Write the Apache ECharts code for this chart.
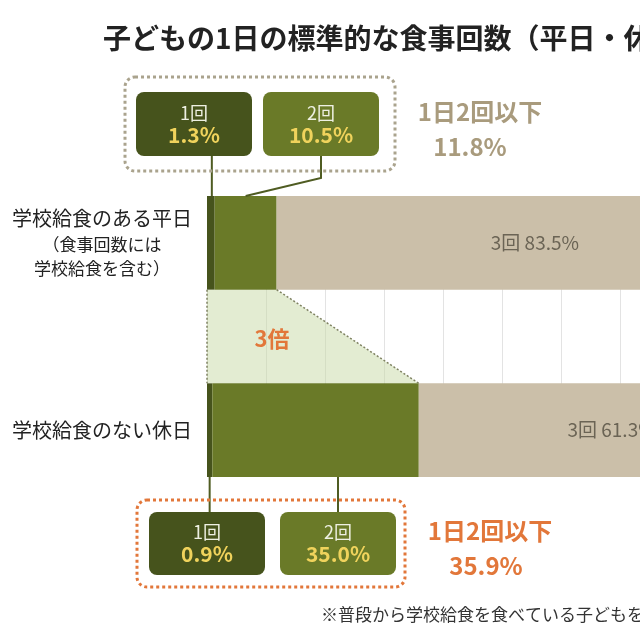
<!DOCTYPE html>
<html>
<head>
<meta charset="utf-8">
<script src="https://cdn.jsdelivr.net/npm/echarts@6/dist/echarts.min.js"></script>
<style>
  html, body { margin: 0; padding: 0; background: #fff; }
  #main { width: 640px; height: 640px; }
</style>
</head>
<body>
<div id="main"></div>
<script>
// data
const categories = ["学校給食のある平日", "学校給食のない休日"];
const seriesNames = ["1回", "2回", "3回"];
const once = [1.3, 0.9];
const twice = [10.5, 35.0];
const thrice = [83.5, 61.3];

const FONT = "Noto Sans CJK JP";
const C_DARK = "#46531c";
const C_GREEN = "#6a7a28";
const C_TAN = "#cbbfa9";
const C_ORANGE = "#e2773a";
const C_GREY = "#a99b7d";

// spacer row in the middle for the "3倍" band
const axisData = [categories[0], "", categories[1]];
const withGap = (arr) => [arr[0], "-", arr[1]];

const chart = echarts.init(document.getElementById("main"));

const option = {
  backgroundColor: "#fff",
  animation: false,
  textStyle: { fontFamily: FONT },
  title: {
    text: "子どもの1日の標準的な食事回数（平日・休日）",
    left: 98,
    top: 19,
    textStyle: { fontSize: 28, fontWeight: "bold", color: "#222", fontFamily: FONT },
  },
  // the picture is cut on the right: only ~73% of the axis fits in the canvas
  grid: {
    left: 207,
    top: 196,
    right: 0,
    height: 281,
  },
  xAxis: {
    type: "value",
    min: 0,
    max: 73.4,
    interval: 10,
    axisLabel: { show: false },
    axisLine: { show: false },
    axisTick: { show: false },
    splitLine: {
      show: true,
      lineStyle: { color: "#e3e3e3", width: 1 },
    },
  },
  yAxis: {
    type: "category",
    inverse: true,
    data: axisData,
    axisLine: { show: false },
    axisTick: { show: false },
    axisLabel: {
      margin: 14,
      color: "#222",
      fontFamily: FONT,
      formatter: (val, idx) => {
        if (idx === 0) return "{a|" + val + "}\n{b|（食事回数には}\n{b|学校給食を含む）}";
        return "{a|" + val + "}";
      },
      rich: {
        a: { fontSize: 20, lineHeight: 27, width: 182, align: "center", color: "#222", fontFamily: FONT },
        b: { fontSize: 17, lineHeight: 24, width: 182, align: "center", color: "#222", fontFamily: FONT },
      },
    },
  },
  series: [
    {
      name: seriesNames[0],
      type: "bar",
      stack: "all",
      clip: false,
      barCategoryGap: "0%",
      data: withGap(once),
      itemStyle: { color: C_DARK },
    },
    {
      name: seriesNames[1],
      type: "bar",
      stack: "all",
      clip: false,
      data: withGap(twice),
      itemStyle: { color: C_GREEN },
    },
    {
      name: seriesNames[2],
      type: "bar",
      stack: "all",
      clip: false,
      data: withGap(thrice),
      itemStyle: { color: C_TAN },
      label: {
        show: true,
        position: "inside",
        offset: [12, 0],
        formatter: (p) => seriesNames[2] + " " + p.value.toFixed(1) + "%",
        color: "#6b6455",
        fontSize: 19,
        fontFamily: FONT,
      },
    },
  ],
};
chart.setOption(option);

// annotations built from the bar scale
const px = (v, idx) => chart.convertToPixel({ xAxisIndex: 0, yAxisIndex: 0 }, [v, idx]);
const y0 = px(0, 0)[1];
const y2 = px(0, 2)[1];
const half = (px(0, 1)[1] - y0) / 2;
const x = (v) => px(v, 0)[0];

const topBarTop = y0 - half, topBarBottom = y0 + half;
const botBarTop = y2 - half, botBarBottom = y2 + half;
const sumTop = once[0] + twice[0];
const sumBot = once[1] + twice[1];

function box(bx, by, w, h, fill, name, pct) {
  return [
    { type: "rect", shape: { x: bx, y: by, width: w, height: h, r: 8 }, style: { fill }, z: 10 },
    {
      type: "text", x: bx + w / 2, y: by + h / 2 - 11, z: 11,
      style: { text: name, fill: "#eef0e2", fontSize: 18, fontFamily: FONT, align: "center", verticalAlign: "middle" },
    },
    {
      type: "text", x: bx + w / 2, y: by + h / 2 + 11, z: 11,
      style: { text: pct.toFixed(1) + "%", fill: "#f0d35c", fontSize: 21, fontWeight: "bold", fontFamily: FONT, align: "center", verticalAlign: "middle" },
    },
  ];
}

const lineStyle = { stroke: "#4f5c22", lineWidth: 2 };
const dotted = { stroke: "#7f8262", lineWidth: 1.5, lineDash: [2, 2], fill: null };

const graphics = [
  // 3x band between the bars
  {
    type: "polygon", z: 1,
    shape: { points: [[x(0), topBarBottom], [x(sumTop), topBarBottom], [x(sumBot), botBarTop], [x(0), botBarTop]] },
    style: { fill: "rgba(200,218,165,0.5)" },
  },
  { type: "polyline", z: 3, shape: { points: [[x(0), topBarBottom], [x(0), botBarTop]] }, style: dotted },
  { type: "polyline", z: 3, shape: { points: [[x(sumTop), topBarBottom], [x(sumBot), botBarTop]] }, style: dotted },
  {
    type: "text", x: 272, y: 339, z: 5,
    style: { text: "3倍", fill: C_ORANGE, fontSize: 22, fontWeight: "bold", fontFamily: FONT, align: "center", verticalAlign: "middle" },
  },

  // top callout
  {
    type: "rect", z: 9, shape: { x: 125, y: 77, width: 270, height: 94, r: 10 },
    style: { fill: null, stroke: "#aaa38d", lineWidth: 3, lineDash: [3, 3] },
  },
  ...box(136, 92, 116, 64, C_DARK, seriesNames[0], once[0]),
  ...box(263, 92, 116, 64, C_GREEN, seriesNames[1], twice[0]),
  { type: "polyline", z: 8, shape: { points: [[x(once[0] / 2) + 1, 156], [x(once[0] / 2) + 1, topBarTop]] }, style: lineStyle },
  { type: "polyline", z: 8, shape: { points: [[321, 156], [321, 178], [x(once[0] + twice[0] / 2), topBarTop]] }, style: lineStyle },
  {
    type: "text", x: 480, y: 112, z: 11,
    style: { text: "1日2回以下", fill: C_GREY, fontSize: 24, fontWeight: "bold", fontFamily: FONT, align: "center", verticalAlign: "middle" },
  },
  {
    type: "text", x: 470, y: 147, z: 11,
    style: { text: sumTop.toFixed(1) + "%", fill: C_GREY, fontSize: 24, fontWeight: "bold", fontFamily: FONT, align: "center", verticalAlign: "middle" },
  },

  // bottom callout
  {
    type: "rect", z: 9, shape: { x: 137, y: 500, width: 268, height: 87, r: 10 },
    style: { fill: null, stroke: C_ORANGE, lineWidth: 3, lineDash: [3, 3] },
  },
  ...box(149, 512, 116, 63, C_DARK, seriesNames[0], once[1]),
  ...box(280, 512, 116, 63, C_GREEN, seriesNames[1], twice[1]),
  { type: "polyline", z: 8, shape: { points: [[x(once[1] / 2), botBarBottom], [x(once[1] / 2), 512]] }, style: lineStyle },
  { type: "polyline", z: 8, shape: { points: [[338, botBarBottom], [338, 512]] }, style: lineStyle },
  {
    type: "text", x: 490, y: 531, z: 11,
    style: { text: "1日2回以下", fill: C_ORANGE, fontSize: 24, fontWeight: "bold", fontFamily: FONT, align: "center", verticalAlign: "middle" },
  },
  {
    type: "text", x: 486, y: 566, z: 11,
    style: { text: sumBot.toFixed(1) + "%", fill: C_ORANGE, fontSize: 24, fontWeight: "bold", fontFamily: FONT, align: "center", verticalAlign: "middle" },
  },

  // footnote
  {
    type: "text", x: 321, y: 615, z: 11,
    style: { text: "※普段から学校給食を食べている子どもを対象", fill: "#333", fontSize: 17, fontFamily: FONT, verticalAlign: "middle" },
  },
];

chart.setOption({ graphic: graphics });
</script>
</body>
</html>
